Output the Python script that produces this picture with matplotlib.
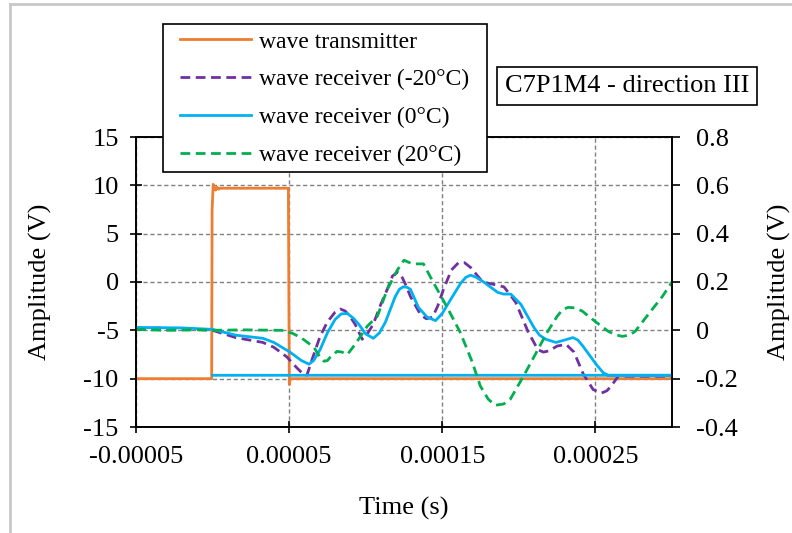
import matplotlib
matplotlib.use("Agg")
import matplotlib.pyplot as plt
from matplotlib.lines import Line2D
from matplotlib.patches import Rectangle
import numpy as np

plt.rcParams['font.family'] = ['Liberation Serif', 'DejaVu Serif']
plt.rcParams['axes.unicode_minus'] = False
FS = 19      # ticks, axis titles, title box
FS_LEG = 17  # legend

# time in microseconds, converted to seconds when plotted
tx_t = [-50, -0.6, -0.3, 0.4, 1.2, 2.0, 3.0, 4.0, 5.0, 49.5, 50.1, 50.6, 51.5, 300]
tx_v = [-10, -10, 7.5, 10.1, 9.8, 9.5, 9.8, 9.6, 9.7, 9.7, -10.6, -10.1, -10, -10]

rm20_t = [-50, -35, -21.6, -10, 0, 15.1, 32.8, 40, 48.5, 55, 59, 61.6, 65, 70.2, 75, 80,
          83.5, 86.6, 90, 93.1, 97.7, 101, 104.9, 110, 114.1, 117.5, 120.7, 122.6,
          126, 129.2, 135.7, 139.5, 143.6, 147, 150.8, 156, 160.6, 164.5, 168.5,
          176.4, 183.6, 190.2, 194, 198, 205.9, 212.4, 216, 219.7, 225, 230.8, 236,
          242, 248.5, 253.8, 257.5, 260.3, 264.9, 270, 300]
rm20_v = [0.005, 0.01, 0.005, 0.004, 0.0, -0.03, -0.05, -0.07, -0.11, -0.155, -0.18,
          -0.186, -0.12, -0.025, 0.035, 0.075, 0.088, 0.08, 0.055, 0.025, -0.037,
          -0.015, 0.025, 0.11, 0.17, 0.225, 0.24, 0.235, 0.19, 0.14, 0.066, 0.048,
          0.054, 0.1, 0.17, 0.25, 0.28, 0.28, 0.26, 0.2, 0.19, 0.18, 0.15, 0.115,
          -0.004, -0.08, -0.09, -0.085, -0.065, -0.058, -0.09, -0.18, -0.245, -0.26,
          -0.25, -0.23, -0.19, -0.19, -0.19]

r0_t = [-50, -20, 0, 15.1, 32.8, 40, 50.5, 58, 63, 66, 70.2, 75, 80, 84, 88, 92,
        95.5, 100, 105, 109, 112.8, 119.3, 122, 124.6, 127, 129.2, 134.4, 140, 145.6,
        150, 155.5, 162, 165.5, 168.5, 172, 177, 186.2, 190, 194.7, 201.3, 209.8,
        213.5, 217.6, 224.2, 230, 235.3, 238.5, 241.9, 250.4, 255, 258.3, 300, 0]
r0_v = [0.012, 0.01, 0.004, -0.02, -0.033, -0.05, -0.09, -0.125, -0.14, -0.125, -0.08,
        -0.01, 0.045, 0.068, 0.07, 0.05, 0.025, -0.015, -0.033, -0.01, 0.033, 0.14,
        0.17, 0.18, 0.178, 0.17, 0.095, 0.055, 0.04, 0.07, 0.128, 0.195, 0.22, 0.228,
        0.22, 0.2, 0.157, 0.15, 0.15, 0.108, 0.012, -0.02, -0.037, -0.05, -0.04,
        -0.03, -0.04, -0.066, -0.14, -0.175, -0.186, -0.186, -0.186]

r20_t = [-50, -30, -10, 0, 20, 45.2, 52, 57.7, 66.2, 70, 72.8, 75, 77, 81.3, 84.5, 88,
         93.1, 101, 107.6, 114.1, 120.7, 125, 130.5, 137.7, 144, 153.2, 161.7, 169.5,
         174.8, 180, 184.6, 190, 194.4, 203, 212.4, 218.3, 225, 228.5, 232.1, 236.5,
         241.3, 249.8, 258.3, 263, 267.5, 272, 276, 284.5, 293.7, 300]
r20_v = [0.004, 0.0, 0.002, 0.0, 0.002, 0.0, -0.012, -0.03, -0.07, -0.11, -0.128,
         -0.125, -0.11, -0.087, -0.09, -0.1, -0.058, 0.017, 0.058, 0.17, 0.25, 0.29,
         0.275, 0.275, 0.2, 0.095, -0.008, -0.13, -0.23, -0.285, -0.31, -0.305,
         -0.285, -0.19, -0.08, -0.01, 0.058, 0.085, 0.095, 0.093, 0.08, 0.037, -0.004,
         -0.018, -0.025, -0.02, -0.004, 0.066, 0.14, 0.2]

labels = ["wave transmitter", "wave receiver (-20°C)", "wave receiver (0°C)",
          "wave receiver (20°C)"]
colors = ["#ED7D31", "#7030A0", "#00B0F0", "#00B050"]
title = "C7P1M4 - direction III"

us = 1e-6
fig = plt.figure(figsize=(7.92, 5.33), dpi=100)
ax = fig.add_axes([136/792, 1-427/533, (672-136)/792, (427-137)/533])
ax2 = ax.twinx()

dash = (0, (3.5, 2))
l0, = ax.plot(np.array(tx_t)*us, tx_v, color=colors[0], lw=2)
l1, = ax2.plot(np.array(rm20_t)*us, rm20_v, color=colors[1], lw=2, ls=dash)
l2, = ax2.plot(np.array(r0_t)*us, r0_v, color=colors[2], lw=2)
l3, = ax2.plot(np.array(r20_t)*us, r20_v, color=colors[3], lw=2, ls=dash)

ax.set_xlim(-0.00005, 0.0003)
ax.set_ylim(-15, 15)
ax2.set_ylim(-0.4, 0.8)
ax.set_xticks([-0.00005, 0.00005, 0.00015, 0.00025])
ax.set_xticklabels(["-0.00005", "0.00005", "0.00015", "0.00025"])
ax.set_yticks(np.arange(-15, 16, 5))
ax2.set_yticks([-0.4, -0.2, 0, 0.2, 0.4, 0.6, 0.8])
ax2.set_yticklabels(["-0.4", "-0.2", "0", "0.2", "0.4", "0.6", "0.8"])

ax.grid(True, color="#808080", ls=(0, (3, 2)), lw=1)
ax.tick_params(axis='x', direction='inout', length=9, width=1.2, labelsize=FS, pad=9)
ax.tick_params(axis='y', direction='inout', length=9, width=1.2, labelsize=FS, pad=8)
ax2.tick_params(axis='y', direction='out', length=6, width=1.2, labelsize=FS, pad=11)
for a in (ax, ax2):
    for s in a.spines.values():
        s.set_linewidth(1.2)
        s.set_color("black")

ax.set_xlabel("Time (s)", fontsize=FS, va='center')
ax.xaxis.set_label_coords(0.5, (427-508)/290)
ax.set_ylabel("Amplitude (V)", fontsize=FS, va='center')
ax.yaxis.set_label_coords((40-136)/536, 0.5)
ax2.set_ylabel("Amplitude (V)", fontsize=FS, va='center')
ax2.yaxis.set_label_coords((779-136)/536, 0.5)

# legend box drawn separately so its size matches the original
fig.add_artist(Rectangle((163/792, 1-172/533), (487-163)/792, (172-24)/533,
                         transform=fig.transFigure, fc='white', ec='black', lw=1.2,
                         zorder=9))
leg = fig.legend([l0, l1, l2, l3], labels, loc='upper left',
                 bbox_to_anchor=(180/792, 1-31/533), bbox_transform=fig.transFigure,
                 fontsize=FS_LEG, frameon=False, handlelength=3.0, handletextpad=0.35,
                 labelspacing=0.69, borderpad=0, borderaxespad=0)
leg.set_zorder(10)

fig.text(627/792, 1-86/533, title, fontsize=FS, ha='center', va='center',
         bbox=dict(boxstyle='square,pad=0.3', fc='white', ec='black', lw=1.2))

# outer frame of the chart area
fig.add_artist(Line2D([10/792, 10/792], [0, 1-4/533], color="#c8c8c8", lw=2,
                      transform=fig.transFigure))
fig.add_artist(Line2D([10/792, 1], [1-4/533, 1-4/533], color="#c8c8c8", lw=2,
                      transform=fig.transFigure))

fig.savefig("out.png", dpi=100)
